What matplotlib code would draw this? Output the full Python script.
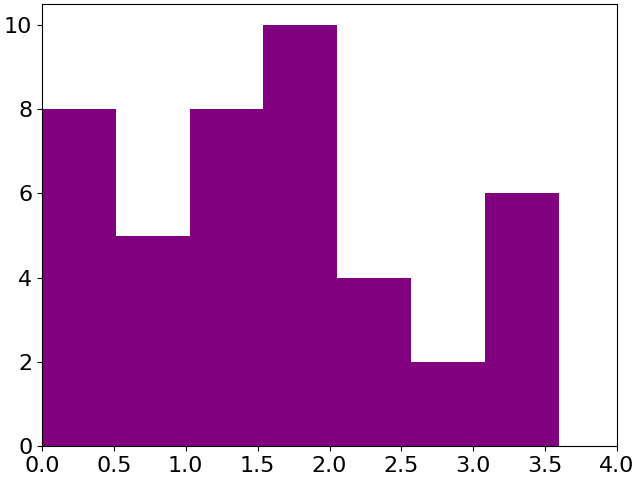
import matplotlib
matplotlib.use("Agg")
import matplotlib.pyplot as plt
import numpy as np

bin_edges = [0.0, 0.514, 1.029, 1.540, 2.053, 2.567, 3.081, 3.594]
counts = [8, 5, 8, 10, 4, 2, 6]

plt.rcParams['font.size'] = 16
fig, ax = plt.subplots(figsize=(6.4, 4.8), dpi=100)
ax.hist(bin_edges[:-1], bins=bin_edges, weights=counts, color='purple')
ax.set_xlim(0, 4)
ax.set_ylim(0, 10.5)
ax.set_xticks(np.arange(0, 4.01, 0.5))
ax.set_yticks([0, 2, 4, 6, 8, 10])
fig.subplots_adjust(left=42/640, right=617/640, top=1-4/480, bottom=1-446/480)
fig.savefig("out.png")
